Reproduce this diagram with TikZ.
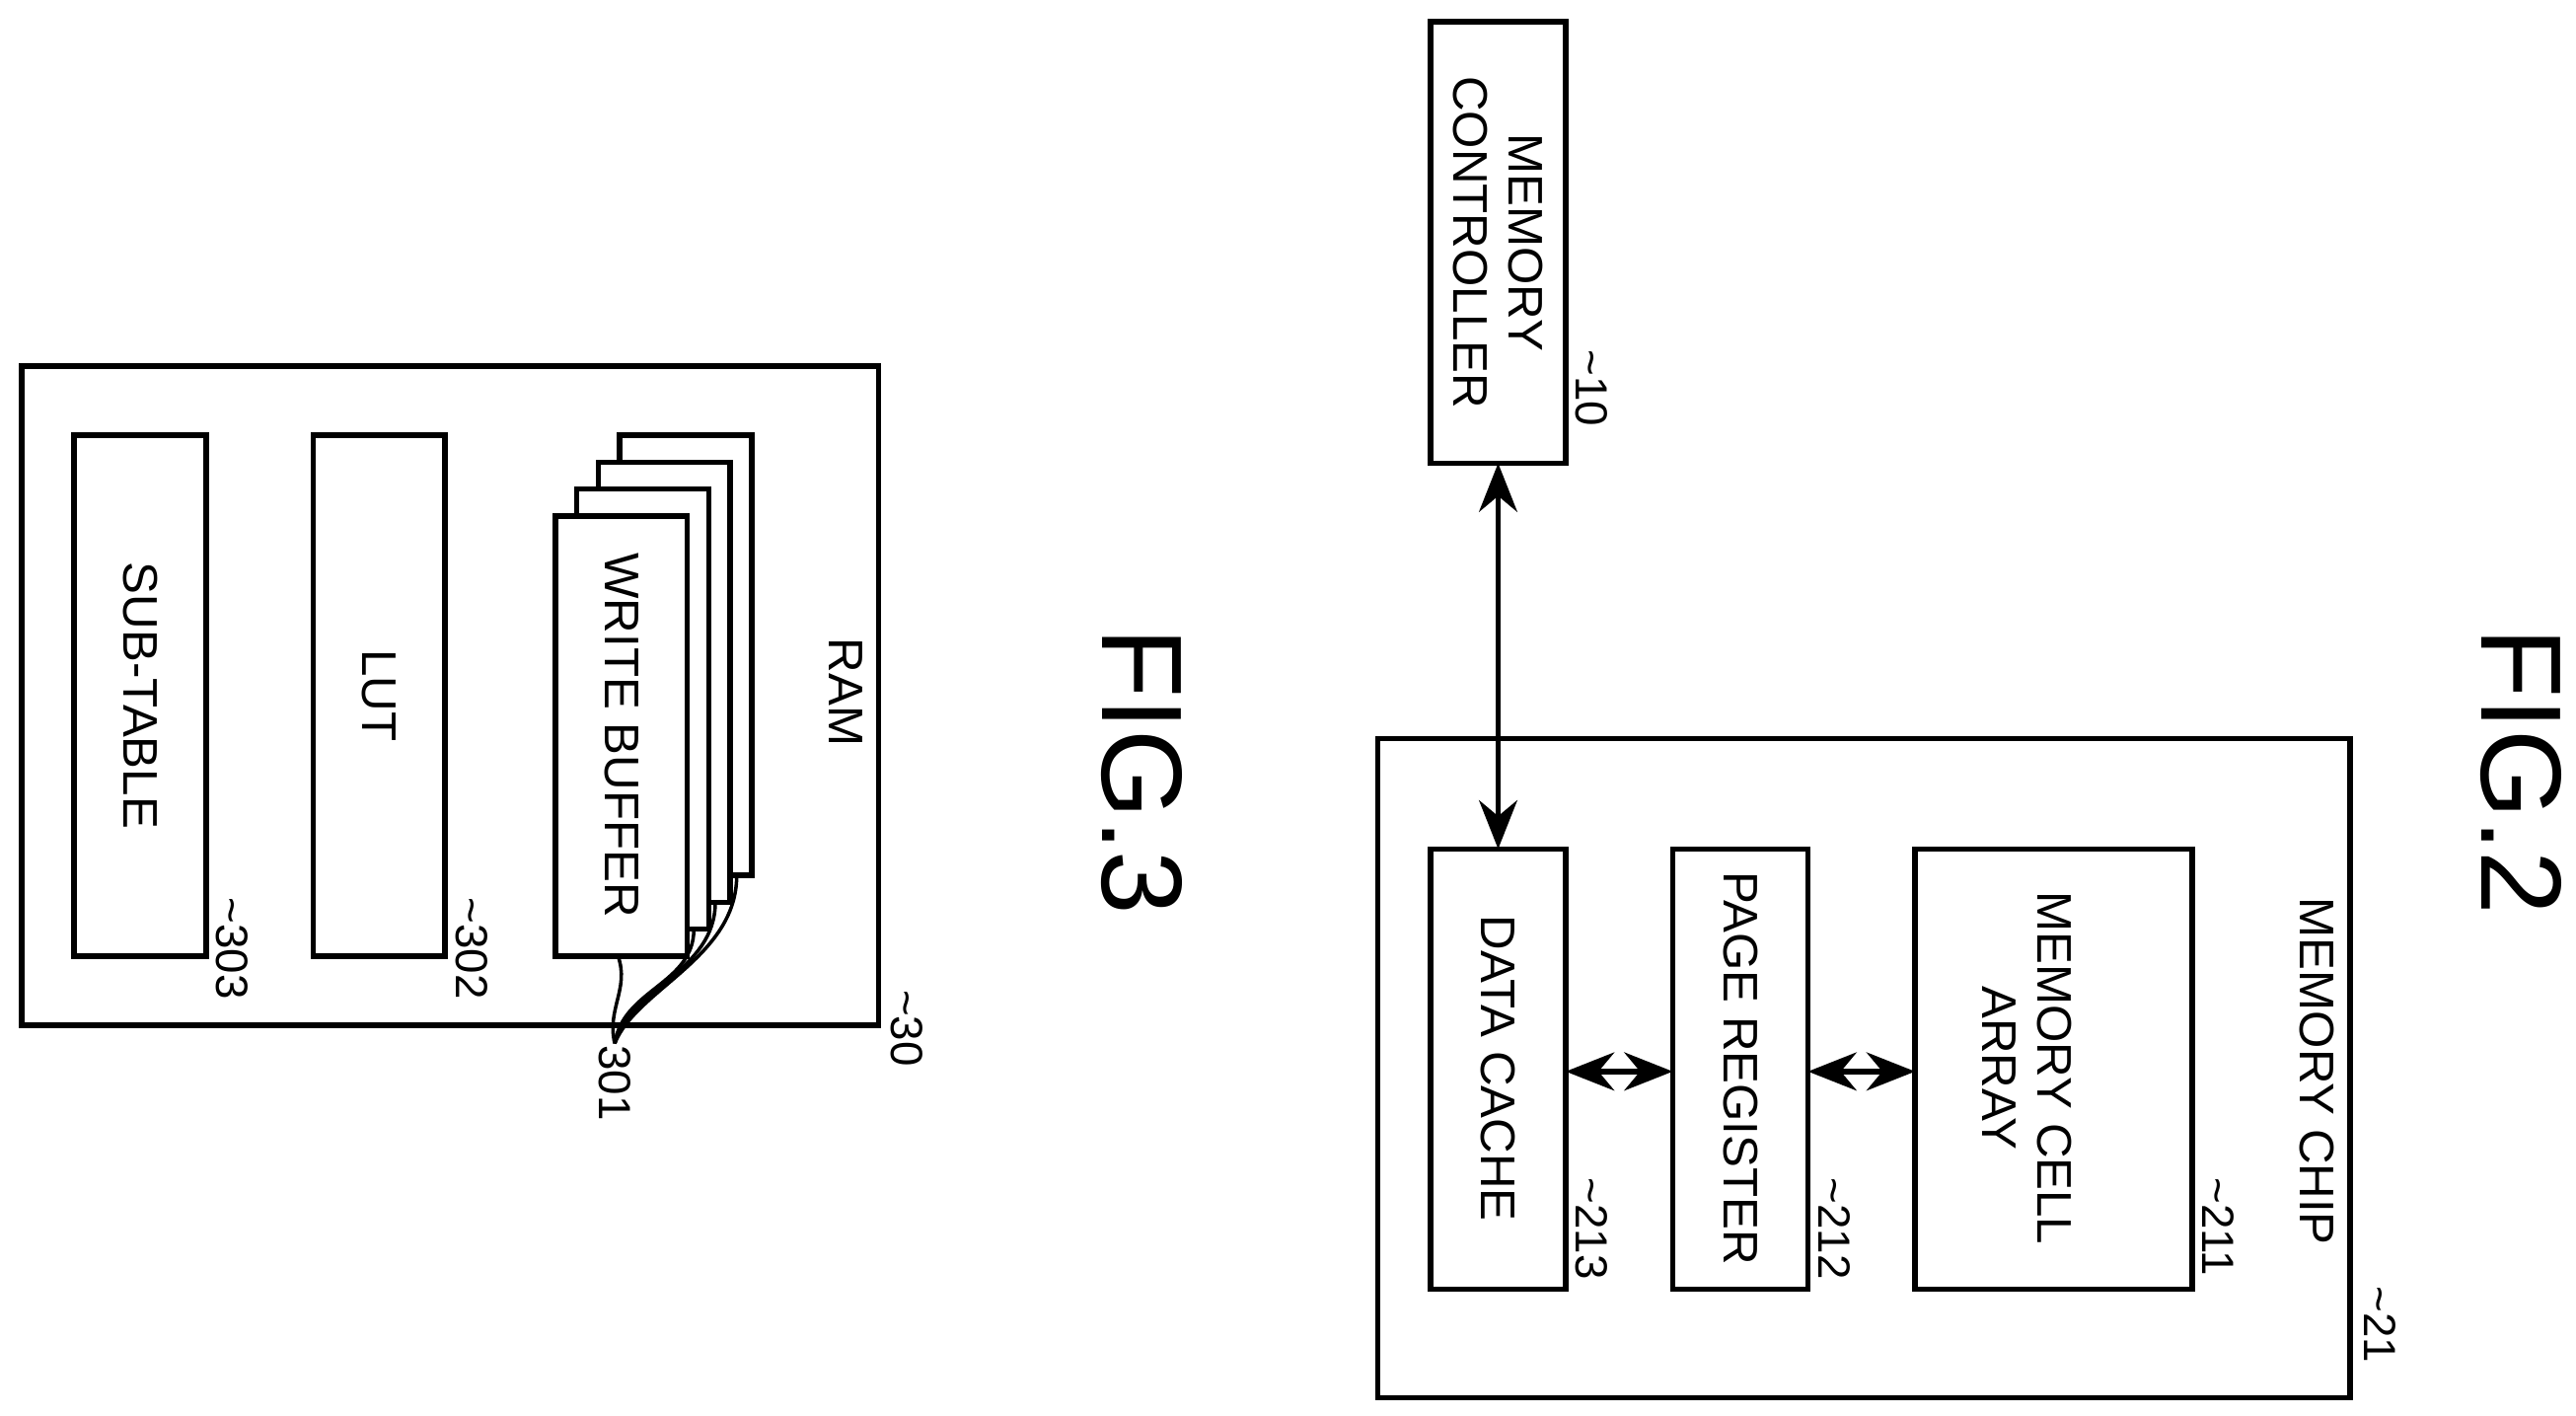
\documentclass[tikz,border=0pt]{standalone}
\usepackage{fontspec}
\setmainfont{Liberation Sans}
\usetikzlibrary{arrows.meta}
\tikzset{
  blk/.style={draw,line width=1.6pt},
  txt/.style={rotate=-90,align=center,font=\fontsize{14}{16}\selectfont},
  refno/.style={rotate=-90,anchor=west,font=\fontsize{13}{15}\selectfont,inner sep=0pt},
  dbl/.style={{Stealth[length=14pt,width=11pt]}-{Stealth[length=14pt,width=11pt]},line width=1.6pt}
}
\begin{document}
\begin{tikzpicture}[x=0.0167cm,y=-0.0167cm]
\useasboundingbox (0,0) rectangle (1563,859);
% FIG.2
\draw[blk] (868,13) rectangle (950,281);
\node[txt] (mc) at (909,147) {MEMORY\\CONTROLLER};
\node[refno] at (966,212) {\string~10};
\draw[blk] (836,448) rectangle (1426,848);
\node[txt] at (1406,650) {MEMORY CHIP};
\node[refno] at (1444,780) {\string~21};
\draw[blk] (868,515) rectangle (950,782);
\node[txt] (dc) at (909,648) {DATA CACHE};
\node[refno] at (966,714) {\string~213};
\draw[blk] (1015,515) rectangle (1097,782);
\node[txt] (pr) at (1056,648) {PAGE REGISTER};
\node[refno] at (1113,714) {\string~212};
\draw[blk] (1162,515) rectangle (1330,782);
\node[txt] (mca) at (1230,648) {MEMORY CELL\\ARRAY};
\node[refno] at (1346,714) {\string~211};
\coordinate (mcB) at (909,281);
\coordinate (dcT) at (909,515);
\draw[dbl] (mcB) -- (dcT);
\coordinate (dcR) at (950,650);
\coordinate (prL) at (1015,650);
\coordinate (prR) at (1097,650);
\coordinate (caL) at (1162,650);
\draw[dbl] (dcR) -- (prL);
\draw[dbl] (prR) -- (caL);
\node[rotate=-90,font=\fontsize{33}{36}\selectfont] at (1530,468) {FIG.2};
% FIG.3
\node[rotate=-90,font=\fontsize{33}{36}\selectfont] at (693,468) {FIG.3};
\draw[blk] (13,222) rectangle (533,622);
\node[txt] at (513,420) {RAM};
\node[refno] at (550,600) {\string~30};
\draw[blk] (45,264) rectangle (125,580);
\node[txt] at (85,422) {SUB-TABLE};
\node[refno] at (141,544) {\string~303};
\draw[blk] (190,264) rectangle (270,580);
\node[txt] at (230,422) {LUT};
\node[refno] at (286,544) {\string~302};
\foreach \i in {3,2,1,0}{
  \draw[blk,fill=white] (337+13*\i,313-16.3*\i) rectangle (417+13*\i,580-16.3*\i);
}
\node[txt] at (377,446) {WRITE BUFFER};
\coordinate (lead) at (373,633);
\draw[line width=1pt] (lead) .. controls (368,612) and (382,600) .. (375,580);
\foreach \i in {1,2,3}{
  \draw[line width=1pt] (lead) .. controls (374+4*\i,600) and (408+13*\i,605-8*\i) .. (408+13*\i,580-16.3*\i);
}
\node[txt,font=\fontsize{13}{15}\selectfont] at (373,657) {301};
\end{tikzpicture}
\end{document}
